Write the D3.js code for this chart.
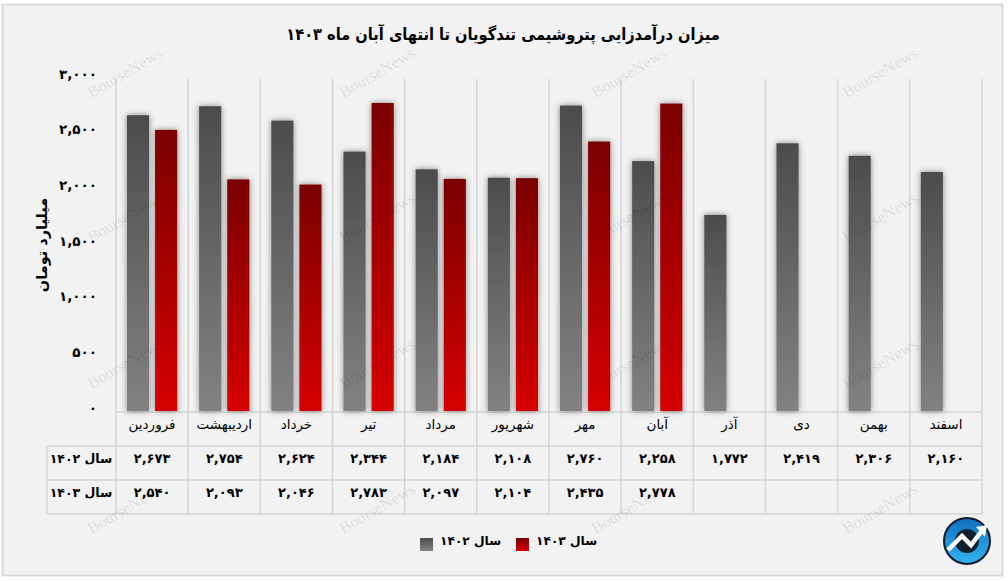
<!DOCTYPE html>
<html><head><meta charset="utf-8">
<script src="https://cdnjs.cloudflare.com/ajax/libs/d3/7.8.5/d3.min.js"></script>
<style>html,body{margin:0;padding:0;background:#fff}svg{display:block}text{font-family:"DejaVu Sans",sans-serif;fill:#000}</style>
</head><body><svg id="c" width="1008" height="581"></svg>
<script>
const title = "میزان درآمدزایی پتروشیمی تندگویان تا انتهای آبان ماه ۱۴۰۳";
const yTitle = "میلیارد تومان";
const months = ["فروردین","اردیبهشت","خرداد","تیر","مرداد","شهریور","مهر","آبان","آذر","دی","بهمن","اسفند"];
const seriesNames = ["سال ۱۴۰۲","سال ۱۴۰۳"];
const values1402 = [2673,2754,2624,2344,2184,2108,2760,2258,1772,2419,2306,2160];
const values1403 = [2540,2093,2046,2783,2097,2104,2435,2778,null,null,null,null];
const yTicks = [0,500,1000,1500,2000,2500,3000];
const watermark = "BourseNews";

const W=1008,H=581;
const svg=d3.select("#c");
const defs=svg.append("defs");
const grad=(id,a,b)=>{const g=defs.append("linearGradient").attr("id",id).attr("x1",0).attr("y1",0).attr("x2",0).attr("y2",1);
 g.append("stop").attr("offset",0).attr("stop-color",a);g.append("stop").attr("offset",1).attr("stop-color",b);};
grad("g0","#4c4c4c","#828282");grad("g1","#7a0000","#d60000");
const f=defs.append("filter").attr("id","sh").attr("x","-40%").attr("y","-5%").attr("width","180%").attr("height","110%");
f.append("feDropShadow").attr("dx",0).attr("dy",0).attr("stdDeviation",3).attr("flood-color","#000").attr("flood-opacity",.45);
const lg=defs.append("linearGradient").attr("id","logo").attr("x1",0).attr("y1",0).attr("x2",0).attr("y2",1);
lg.append("stop").attr("offset",0).attr("stop-color","#0f6fc0");lg.append("stop").attr("offset",1).attr("stop-color","#35b4ef");

const fa=d3.format(",");
const toFa=s=>String(s).replace(/\d/g,d=>"۰۱۲۳۴۵۶۷۸۹"[+d]);

svg.append("rect").attr("x",2.5).attr("y",4.5).attr("width",1000).attr("height",571).attr("fill","#f2f2f2").attr("stroke","#d9d9d9").attr("stroke-width",2);

const x=d3.scaleBand().domain(months).range([116,982]);
const y=d3.scaleLinear().domain([0,3000]).range([411,79]);
const yLabels=d3.scaleLinear().domain([0,3000]).range([408,74]);
const inner=d3.scaleBand().domain([0,1]).range([0,x.bandwidth()]).paddingInner(.214).paddingOuter(.39);

const grid="#d4d4d4";
const rowY=[412,446,480,514], tableLeft=47;

const edges=months.map(m=>x(m)).concat([x.range()[1]]);
svg.append("g").selectAll("line").data(edges).join("line")
 .attr("x1",d=>d).attr("x2",d=>d).attr("y1",y(3000)).attr("y2",rowY[3]).attr("stroke",grid).attr("stroke-width",1.5);
svg.append("g").selectAll("line").data(rowY).join("line")
 .attr("x1",(d,i)=>i==0?x.range()[0]:tableLeft).attr("x2",x.range()[1]).attr("y1",d=>d).attr("y2",d=>d).attr("stroke",grid).attr("stroke-width",1.5);
svg.append("line").attr("x1",tableLeft).attr("x2",tableLeft).attr("y1",rowY[1]).attr("y2",rowY[3]).attr("stroke",grid).attr("stroke-width",1.5);

[values1402,values1403].forEach((vals,s)=>{
 svg.append("g").selectAll("rect").data(months.map((m,i)=>({m,v:vals[i]})).filter(d=>d.v!=null)).join("rect")
  .attr("x",d=>x(d.m)+inner(s)).attr("width",inner.bandwidth())
  .attr("y",d=>y(d.v)).attr("height",d=>y(0)-y(d.v))
  .attr("fill",`url(#g${s})`).attr("filter","url(#sh)");
});

const wx=[126,378,630,881],wy=[74,219,365,510];
wy.forEach(b=>wx.forEach(a=>{
 svg.append("text").attr("transform",`translate(${a},${b}) rotate(-30)`).attr("text-anchor","middle").attr("dominant-baseline","middle")
  .style("font-family","'Liberation Serif',serif").style("font-size","16.5px").style("fill","#000").style("fill-opacity",.1).text(watermark);
}));

const yAxis=d3.axisLeft(yLabels).tickValues(yTicks).tickSize(0).tickPadding(0).tickFormat(d=>toFa(fa(d)));
const ya=svg.append("g").attr("transform","translate(97,0)").call(yAxis);
ya.select(".domain").remove();
ya.selectAll("text").style("font-size","13.5px").style("font-weight","bold").attr("direction","ltr");

svg.append("text").attr("transform","translate(43,245) rotate(-90)").attr("text-anchor","middle").attr("dominant-baseline","middle")
 .attr("direction","rtl").style("font-size","14.5px").style("font-weight","bold").text(yTitle);

svg.append("text").attr("transform","translate(503,35) scale(.887,1)").attr("text-anchor","middle").attr("dominant-baseline","middle").attr("direction","rtl")
 .style("font-size","16.5px").style("font-weight","bold").text(title);

const cell=(sel,px,py,t,size,weight)=>sel.append("text").attr("x",px).attr("y",py).attr("text-anchor","middle").attr("dominant-baseline","middle")
 .attr("direction","rtl").style("font-size",size+"px").style("font-weight",weight).text(t);
const tb=svg.append("g");
months.forEach((m,i)=>{
 const cx=x(m)+x.bandwidth()/2;
 cell(tb,cx,425,m,13.5,"normal");
 cell(tb,cx,459,toFa(fa(values1402[i])),13,"bold");
 if(values1403[i]!=null) cell(tb,cx,493,toFa(fa(values1403[i])),13,"bold");
});
cell(tb,81,459,seriesNames[0],12.5,"bold");
cell(tb,81,493,seriesNames[1],12.5,"bold");

const lgx=[420,516];
seriesNames.forEach((n,i)=>{
 svg.append("rect").attr("x",lgx[i]).attr("y",538).attr("width",13).attr("height",13).attr("fill",`url(#g${i})`);
 svg.append("text").attr("x",lgx[i]+20).attr("y",541).attr("dominant-baseline","middle").attr("text-anchor","start")
  .attr("direction","ltr").style("font-size","12.2px").style("font-weight","bold").text(n);
});

const L=svg.append("g").attr("transform","translate(967,541)");
L.append("circle").attr("r",23).attr("fill","url(#logo)").attr("stroke","#0b1a26").attr("stroke-width",2);
L.append("circle").attr("r",12).attr("fill","#10202c");
L.append("path").attr("d","M-19,9 L-5,-5 L4,4 L14,-9").attr("fill","none").attr("stroke","#fff").attr("stroke-width",4.5);
L.append("path").attr("d","M9,-14 L20,-16 L18,-4 Z").attr("fill","#fff");
</script></body></html>
